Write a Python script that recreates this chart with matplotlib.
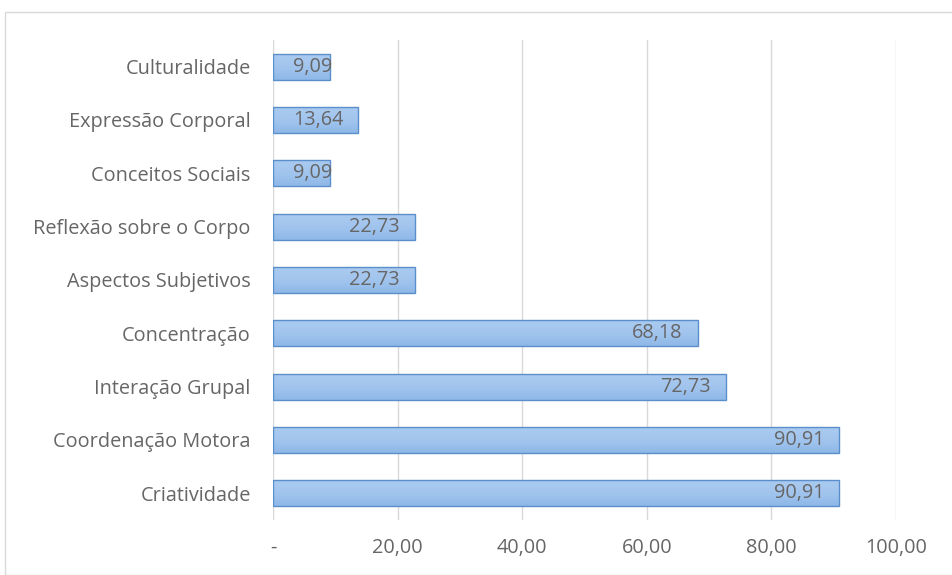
import matplotlib
matplotlib.use("Agg")
import matplotlib.pyplot as plt
from matplotlib.patches import Rectangle
from matplotlib.colors import LinearSegmentedColormap
import numpy as np

categories = ["Criatividade", "Coordenação Motora", "Interação Grupal", "Concentração",
              "Aspectos Subjetivos", "Reflexão sobre o Corpo", "Conceitos Sociais",
              "Expressão Corporal", "Culturalidade"]
values = [90.91, 90.91, 72.73, 68.18, 22.73, 22.73, 9.09, 13.64, 9.09]
xticks = [0, 20, 40, 60, 80, 100]
xticklabels = ["-", "20,00", "40,00", "60,00", "80,00", "100,00"]

plt.rcParams['font.family'] = ['Open Sans', 'DejaVu Sans']
grey = "#666666"
fs = 14.3

fig = plt.figure(figsize=(9.52, 5.75), dpi=100)
fig.patches.append(Rectangle((5/952, 0), 1.0, 1 - 12/575, transform=fig.transFigure,
                             fill=False, edgecolor="#D9D9D9", linewidth=1.0))
ax = fig.add_axes([273/952, 1 - 520/575, (896 - 273)/952, 480/575])

y = np.arange(len(categories))
bars = ax.barh(y, values, height=0.49, color="#9DC3E6", edgecolor="#5B8FCB", linewidth=1.0, zorder=3)

cmap = LinearSegmentedColormap.from_list("g", ["#8FB8E8", "#A2C5EE", "#ABCBF0"])
grad = np.linspace(0, 1, 64).reshape(-1, 1)
for b in bars:
    x0, y0, w, h = b.get_x(), b.get_y(), b.get_width(), b.get_height()
    im = ax.imshow(grad, extent=[x0, x0 + w, y0, y0 + h], cmap=cmap, aspect='auto',
                   origin='lower', zorder=3, interpolation='bilinear')
    im.set_clip_path(b)
    b.set_facecolor('none')
    b.set_zorder(3.5)

ax.set_xlim(0, 100)
ax.set_ylim(-0.5, len(categories) - 0.5)
ax.set_xticks(xticks)
ax.set_xticklabels(xticklabels)
ax.set_yticks(y)
ax.set_yticklabels(categories)
ax.tick_params(axis='both', length=0, colors=grey, labelsize=fs)
ax.tick_params(axis='y', pad=16)
ax.tick_params(axis='x', pad=13)
ax.grid(axis='x', color="#D9D9D9", linewidth=1.0, zorder=0)
for s in ax.spines.values():
    s.set_visible(False)

px = 623 / 100.0
for yi, v in zip(y, values):
    label = f"{v:.2f}".replace(".", ",")
    right = v - 15 / px
    minright = 72 / px
    if right < minright:
        ax.text(20 / px, yi, label, ha='left', va='center', color=grey, fontsize=fs, zorder=4)
    else:
        ax.text(right, yi, label, ha='right', va='center', color=grey, fontsize=fs, zorder=4)

fig.savefig("out.png", dpi=100)
